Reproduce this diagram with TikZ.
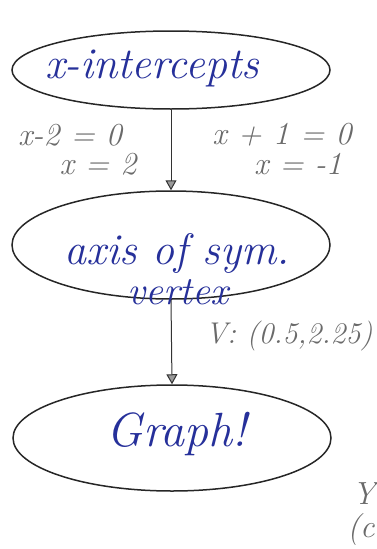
\documentclass[tikz,border=0pt]{standalone}
\usetikzlibrary{arrows.meta,shapes.geometric}
\definecolor{ink}{HTML}{26309A}
\definecolor{pencil}{HTML}{6A6A6A}
\begin{document}
\begin{tikzpicture}[x=1pt,y=-1pt,
  oval/.style={draw=black!85, line width=1.5pt, ellipse, minimum width=318pt, minimum height=#1, inner sep=0pt},
  pen/.style={text=ink, font=\itshape\fontsize{#1}{#1}\selectfont, inner sep=0pt},
  pnc/.style={text=pencil, font=\itshape\fontsize{#1}{#1}\selectfont, inner sep=0pt},
  conn/.style={draw=black!80, line width=1pt, -{Triangle[open, length=10pt, width=11pt, fill=black!40]}}]
\useasboundingbox (0,0) rectangle (377,549);
\node[oval=78pt] (e1) at (171,70) {};
\node[oval=108pt] (e2) at (171,245) {};
\node[oval=106pt] (e3) at (172,438) {};
\node[pen=44] (t1) at (152,68) {x-intercepts};
\node[pen=44] (t2) at (177,253) {axis of sym.};
\node[pen=40] (t2b) at (178,292) {vertex};
\node[pen=48] (t3) at (177,434) {Graph!};
\draw[conn] (e1.south) -- (e2.north);
\draw[conn] (e2.south) -- (e3.north);
\node[pnc=32] (a1) at (70,135) {x-2 = 0};
\node[pnc=32] (a2) at (98,164) {x = 2};
\node[pnc=32] (b1) at (282,135) {x + 1 = 0};
\node[pnc=32] (b2) at (298,164) {x = -1};
\node[pnc=30] (v) at (289,336) {V: (0.5,2.25)};
\node[pnc=32] (y) at (364,494) {Y};
\node[pnc=32] (c) at (361,530) {(c};
\end{tikzpicture}
\end{document}
